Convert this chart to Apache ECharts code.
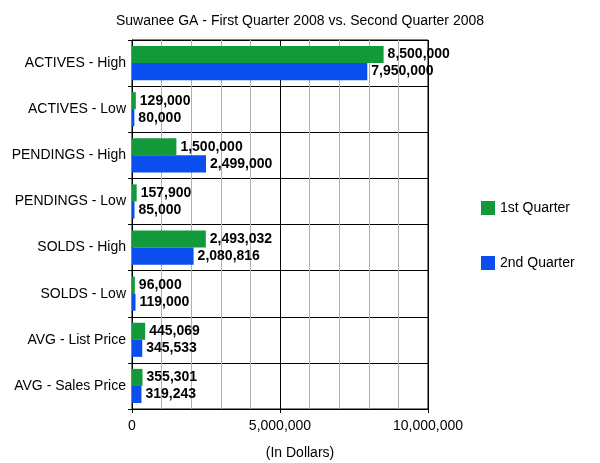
<!DOCTYPE html>
<html>
<head>
<meta charset="utf-8">
<script src="https://cdn.jsdelivr.net/npm/echarts@6/dist/echarts.min.js"></script>
<style>
  html, body { margin: 0; padding: 0; background: #fff; }
  #chart { width: 600px; height: 463px; }
</style>
</head>
<body>
<div id="chart"></div>
<script>
// categories, top to bottom
const categories = [
    'ACTIVES - High', 'ACTIVES - Low', 'PENDINGS - High', 'PENDINGS - Low',
    'SOLDS - High', 'SOLDS - Low', 'AVG - List Price', 'AVG - Sales Price'
];
const firstQuarter = [8500000, 129000, 1500000, 157900, 2493032, 96000, 445069, 355301];
const secondQuarter = [7950000, 80000, 2499000, 85000, 2080816, 119000, 345533, 319243];
const seriesNames = ['1st Quarter', '2nd Quarter'];

const fmt = v => v.toLocaleString('en-US');
const font = 'Liberation Sans, Arial, sans-serif';

const chart = echarts.init(document.getElementById('chart'));

const labelStyle = {
    show: true,
    position: 'right',
    distance: 4,
    color: '#000',
    fontFamily: font,
    fontSize: 14,
    fontWeight: 'bold',
    formatter: p => fmt(p.value)
};

chart.setOption({
    animation: false,
    title: [
        {
            text: 'Suwanee GA - First Quarter 2008 vs. Second Quarter 2008',
            left: 'center',
            top: 9,
            textStyle: { fontFamily: font, fontSize: 14, fontWeight: 'normal', color: '#000' }
        },
        {
            text: '(In Dollars)',
            left: 'center',
            top: 441,
            textStyle: { fontFamily: font, fontSize: 14, fontWeight: 'normal', color: '#000' }
        }
    ],
    legend: {
        orient: 'vertical',
        left: 476,
        top: 196,
        itemGap: 41,
        itemWidth: 14,
        itemHeight: 14,
        icon: 'rect',
        textStyle: { fontFamily: font, fontSize: 14, color: '#000' },
        data: seriesNames
    },
    grid: {
        left: 132,
        right: 172,
        top: 40,
        bottom: 54,
        show: true,
        borderColor: '#000',
        borderWidth: 1
    },
    xAxis: {
        type: 'value',
        min: 0,
        max: 10000000,
        interval: 5000000,
        axisLine: { show: true, lineStyle: { color: '#000' } },
        axisTick: { show: true, length: 4, lineStyle: { color: '#000' } },
        axisLabel: {
            color: '#000', fontFamily: font, fontSize: 14, margin: 10,
            formatter: v => fmt(v)
        },
        splitLine: { show: true, lineStyle: { color: '#000', width: 1 } },
        minorTick: { show: false, splitNumber: 5 },
        minorSplitLine: { show: true, lineStyle: { color: '#b0b0b0', width: 1 } }
    },
    yAxis: {
        type: 'category',
        inverse: true,
        data: categories,
        axisLine: { show: true, lineStyle: { color: '#000' } },
        axisTick: { show: true, length: 4, lineStyle: { color: '#000' } },
        axisLabel: { color: '#000', fontFamily: font, fontSize: 14, margin: 6 },
        splitLine: { show: true, lineStyle: { color: '#000', width: 1 } }
    },
    series: [
        {
            name: seriesNames[0],
            type: 'bar',
            data: firstQuarter,
            barGap: '0%',
            barCategoryGap: '26%',
            itemStyle: { color: '#12993a' },
            label: labelStyle
        },
        {
            name: seriesNames[1],
            type: 'bar',
            data: secondQuarter,
            itemStyle: { color: '#0b4ef0' },
            label: labelStyle
        }
    ]
});
</script>
</body>
</html>
